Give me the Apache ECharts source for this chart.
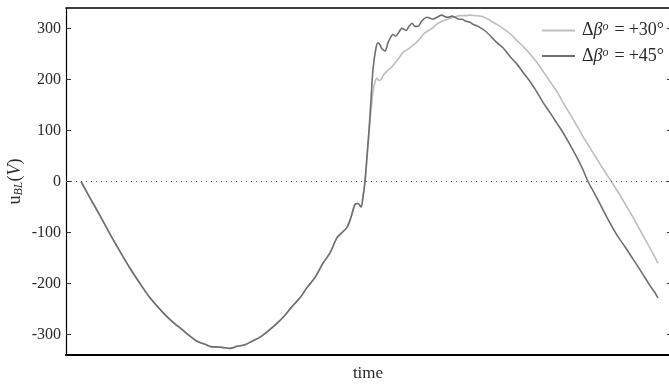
<!DOCTYPE html>
<html><head><meta charset="utf-8">
<script src="https://cdn.jsdelivr.net/npm/echarts@6/dist/echarts.min.js"></script>
<style>html,body{margin:0;padding:0;background:#fff}#c{width:669px;height:385px}</style>
</head><body><div id="c"></div>
<script>
// time (arbitrary units) and u_BL (V)
var timeCommon = [15,24,34,44,54,64,74,84,97,106,116,124,132,139,146,151,156,164,171,179,186,194,202,211,219,227,234,241,249,257,264,271,276,281,285,289,292,295,297,299];
var uCommon    = [0,-32,-67,-103,-137,-170,-200,-228,-257,-274,-290,-303,-314,-319,-324,-324,-325,-327,-323,-320,-313,-305,-293,-278,-262,-243,-228,-208,-188,-160,-140,-110,-100,-90,-70,-45,-43,-50,-30,0];
var time30 = [301,303,305,307,309,311,313,315,318,322,326,330,334,337,341,345,349,354,358,362,366,370,374,379,384,389,394,400,404,409,414,417,422,427,431,437,444,450,457,464,471,477,484,491,497,504,511,517,524,530,537,542,547,554,561,569,577,585,592];
var u30    = [45,95,140,175,195,202,198,200,210,218,225,235,245,253,258,264,270,280,290,295,300,307,312,316,320,323,325,325,326,325,324,323,318,312,308,300,290,278,265,250,233,216,196,176,155,132,109,88,66,47,25,10,-5,-27,-50,-77,-106,-134,-160];
var time45 = [301,303,305,307,310,312,314,316,319,322,325,327,330,332,336,340,343,346,349,352,356,361,364,367,371,376,379,382,386,389,393,396,400,404,407,412,417,421,426,431,437,444,451,457,464,471,477,484,491,497,504,511,517,522,529,534,542,551,559,567,575,584,588,592];
var u45    = [50,100,160,220,262,272,268,260,256,272,284,288,285,290,300,296,304,310,304,304,315,322,320,318,322,326,323,322,324,322,318,318,314,312,308,304,298,292,282,272,262,245,230,214,196,175,155,135,114,96,72,47,23,0,-25,-44,-74,-105,-128,-152,-176,-204,-215,-228];
var yTicks = [-300,-200,-100,0,100,200,300];
var seriesNames = ['\u0394\u03b2\u1d52 = +30\u00b0', '\u0394\u03b2\u1d52 = +45\u00b0'];
var seriesColors = ['#bdbdbd', '#6f6f6f'];

function pairs(t, u){ var d=[]; for(var i=0;i<t.length;i++) d.push([t[i],u[i]]); return d; }
var d30 = pairs(timeCommon.concat(time30), uCommon.concat(u30));
var d45 = pairs(timeCommon.concat(time45), uCommon.concat(u45));

var SERIF = '"Liberation Serif","DejaVu Serif",serif';
var TXT = '#2a2a2a';
var chart = echarts.init(document.getElementById('c'), null, {renderer:'canvas'});
chart.setOption({
  animation: false,
  backgroundColor: '#fff',
  grid: {left: 66, top: 8, width: 604, height: 347, outerBoundsMode: 'none', containLabel: false},
  xAxis: [{
    type: 'value', min: 0, max: 604, position: 'bottom',
    axisLine: {show: true, onZero: false, lineStyle: {color: '#000', width: 2}},
    axisTick: {show: false}, axisLabel: {show: false}, splitLine: {show: false},
    name: 'time', nameLocation: 'middle', nameGap: 10,
    nameTextStyle: {fontFamily: SERIF, fontSize: 17, color: TXT}
  }, {
    type: 'value', min: 0, max: 604, position: 'top',
    axisLine: {show: true, onZero: false, lineStyle: {color: '#000', width: 1.5}},
    axisTick: {show: false}, axisLabel: {show: false}, splitLine: {show: false}
  }],
  yAxis: [{
    type: 'value', min: -340, max: 340, position: 'left',
    axisLine: {show: true, onZero: false, lineStyle: {color: '#000', width: 1.2}},
    axisTick: {show: true, inside: true, length: 5, customValues: yTicks, lineStyle: {color: '#333'}},
    axisLabel: {customValues: yTicks, margin: 5, fontFamily: SERIF, fontSize: 16, color: TXT},
    splitLine: {show: false},
    name: '{u|u}{sub|BL}{p|(}{v|V}{p|)}', nameLocation: 'middle', nameRotate: 90, nameGap: 41,
    nameMoveOverlap: false,
    nameTextStyle: {fontFamily: SERIF, fontSize: 18, color: TXT, rich: {
      u: {fontFamily: SERIF, fontSize: 18, color: TXT},
      sub: {fontFamily: SERIF, fontSize: 12, fontStyle: 'italic', color: TXT, verticalAlign: 'bottom', padding: [7,0,0,0]},
      p: {fontFamily: SERIF, fontSize: 18, color: TXT},
      v: {fontFamily: SERIF, fontSize: 18, fontStyle: 'italic', color: TXT}
    }}
  }, {
    type: 'value', min: -340, max: 340, position: 'right',
    axisLine: {show: false, onZero: false},
    axisTick: {show: true, inside: true, length: 3, customValues: yTicks, lineStyle: {color: '#333'}},
    axisLabel: {show: false}, splitLine: {show: false}
  }],
  legend: {
    orient: 'vertical', left: 537, top: 16, itemWidth: 33, itemHeight: 2, itemGap: 7,
    data: [{name: seriesNames[0], icon: 'rect'}, {name: seriesNames[1], icon: 'rect'}],
    formatter: function(n){ return n === seriesNames[0] ? '{n|\u0394}{b|\u03b2}{s|o}{e|=}{n|+30\u00b0}' : '{n|\u0394}{b|\u03b2}{s|o}{e|=}{n|+45\u00b0}'; },
    textStyle: {fontFamily: SERIF, fontSize: 18, color: TXT, padding: [0,0,0,2], rich: {
      n: {fontFamily: SERIF, fontSize: 18, color: TXT},
      e: {fontFamily: SERIF, fontSize: 18, color: TXT, padding: [0,4,0,4]},
      b: {fontFamily: SERIF, fontSize: 18, fontStyle: 'italic', color: TXT},
      s: {fontFamily: SERIF, fontSize: 12, fontStyle: 'italic', color: TXT, verticalAlign: 'top', padding: [0,2,7,0]}
    }}
  },
  series: [{
    name: seriesNames[0], type: 'line', data: d30, symbol: 'none', smooth: 0.3,
    lineStyle: {color: seriesColors[0], width: 1.6}, itemStyle: {color: seriesColors[0]}, z: 2,
    markLine: {silent: true, symbol: 'none', label: {show: false},
      lineStyle: {color: '#555', type: [1,4], width: 1}, data: [{yAxis: 0}]}
  }, {
    name: seriesNames[1], type: 'line', data: d45, symbol: 'none', smooth: 0.3,
    lineStyle: {color: seriesColors[1], width: 1.6}, itemStyle: {color: seriesColors[1]}, z: 3
  }]
});
</script></body></html>
